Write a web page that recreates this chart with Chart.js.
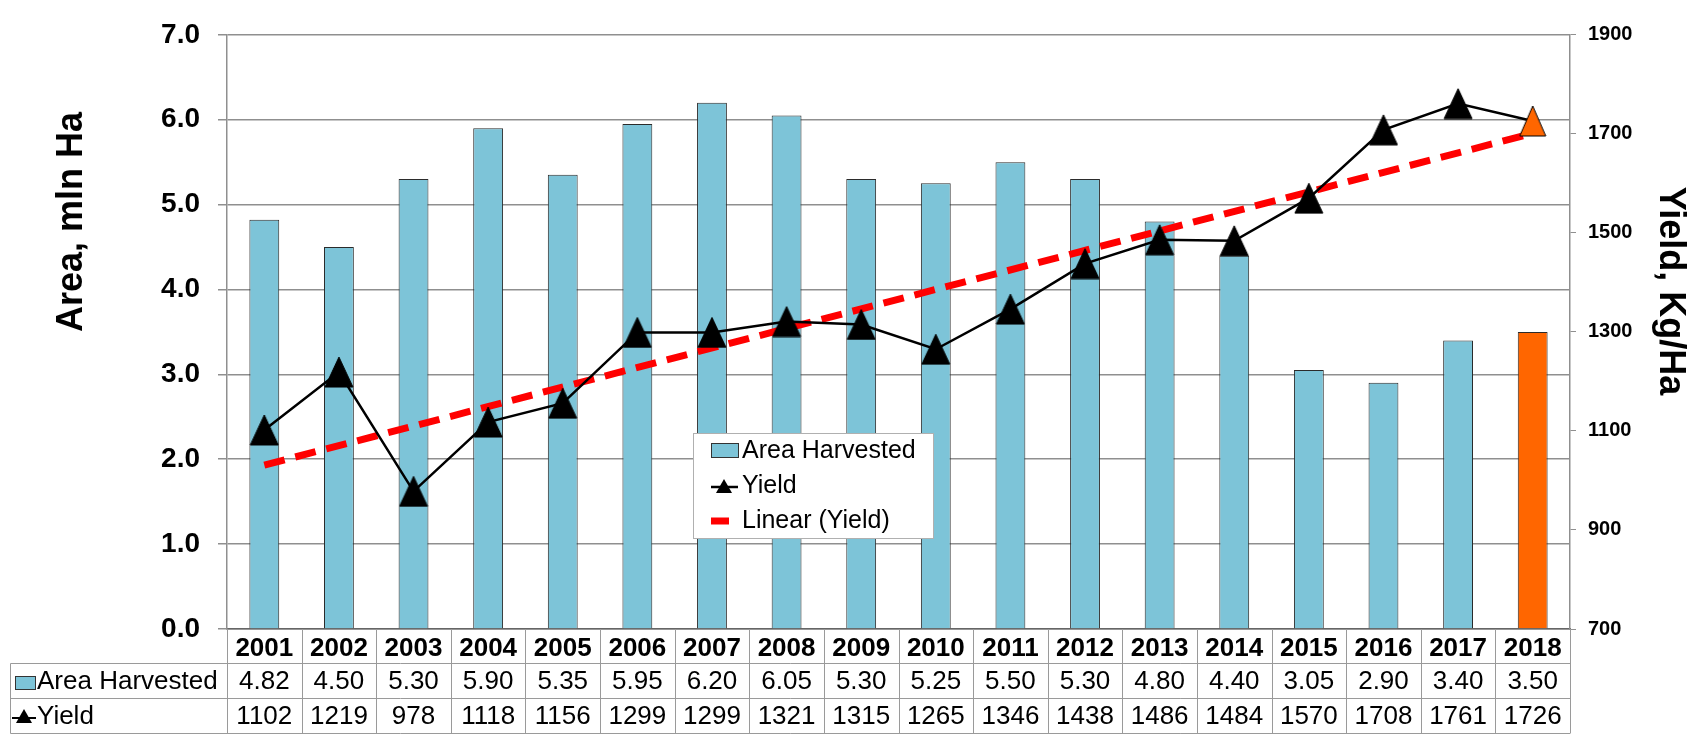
<!DOCTYPE html>
<html lang="en">
<head>
  <meta charset="UTF-8">
  <title>Area Harvested and Yield, 2001-2018</title>
  <script src="https://cdn.jsdelivr.net/npm/chart.js"></script>
  <style>
    html, body { margin: 0; padding: 0; background: #fff; }
  </style>
</head>
<body>
  <canvas id="cropChart" width="1700" height="734"></canvas>

  <script>
    const years = ['2001', '2002', '2003', '2004', '2005', '2006', '2007', '2008', '2009',
                   '2010', '2011', '2012', '2013', '2014', '2015', '2016', '2017', '2018'];
    const areaHarvested = [4.82, 4.50, 5.30, 5.90, 5.35, 5.95, 6.20, 6.05, 5.30,
                           5.25, 5.50, 5.30, 4.80, 4.40, 3.05, 2.90, 3.40, 3.50];
    const yieldKgHa = [1102, 1219, 978, 1118, 1156, 1299, 1299, 1321, 1315,
                       1265, 1346, 1438, 1486, 1484, 1570, 1708, 1761, 1726];
    // trendline ends (2001 and 2018)
    const trendYears = ['2001', '2018'];
    const trendValues = [1031, 1701];

    const FONT = "'Liberation Sans', Arial, sans-serif";
    const BLUE = '#7DC4D8';
    const ORANGE = '#FF6600';
    const GRID = '#8f8f8f';

    // triangle markers like the Excel ones
    function triangleMarker(fill, w, h) {
      const c = document.createElement('canvas');
      c.width = w; c.height = h;
      const g = c.getContext('2d');
      g.beginPath();
      g.moveTo(w / 2, 1);
      g.lineTo(w - 1, h - 1);
      g.lineTo(1, h - 1);
      g.closePath();
      g.fillStyle = fill;
      g.fill();
      g.strokeStyle = '#000';
      g.lineWidth = 1;
      g.stroke();
      return c;
    }
    const triBlack = triangleMarker('#000', 30, 32);
    const triOrange = triangleMarker(ORANGE, 28, 32);

    function drawTri(ctx, cx, cy, w, h) {
      ctx.beginPath();
      ctx.moveTo(cx, cy - h / 2);
      ctx.lineTo(cx + w / 2, cy + h / 2);
      ctx.lineTo(cx - w / 2, cy + h / 2);
      ctx.closePath();
      ctx.fillStyle = '#000';
      ctx.fill();
    }

    // data table under the axis, axis titles and the boxed legend
    const extras = {
      id: 'extras',
      afterDraw(chart) {
        const ctx = chart.ctx;
        const area = chart.chartArea;
        const xs = chart.scales.x;
        const n = years.length;
        const colW = (area.right - area.left) / n;
        const yearBottom = 663.5, rowMid = 698.5, tableBottom = 733.5, tableLeft = 10.5;

        ctx.save();
        ctx.strokeStyle = '#9a9a9a';
        ctx.lineWidth = 1;
        ctx.beginPath();
        for (let i = 0; i <= n; i++) {
          const bx = Math.round(area.left + i * colW) + 0.5;
          ctx.moveTo(bx, area.bottom);
          ctx.lineTo(bx, tableBottom);
        }
        ctx.moveTo(tableLeft, yearBottom); ctx.lineTo(area.right, yearBottom);
        ctx.moveTo(tableLeft, rowMid); ctx.lineTo(area.right, rowMid);
        ctx.moveTo(tableLeft, tableBottom); ctx.lineTo(area.right, tableBottom);
        ctx.moveTo(tableLeft, yearBottom); ctx.lineTo(tableLeft, tableBottom);
        ctx.stroke();

        ctx.fillStyle = '#000';
        ctx.font = '26px ' + FONT;
        ctx.textAlign = 'center';
        ctx.textBaseline = 'middle';
        for (let i = 0; i < n; i++) {
          const cx = xs.getPixelForValue(i);
          ctx.fillText(areaHarvested[i].toFixed(2), cx, 682);
          ctx.fillText(String(yieldKgHa[i]), cx, 717);
        }
        ctx.textAlign = 'left';
        ctx.fillText('Area Harvested', 37, 682);
        ctx.fillText('Yield', 37, 717);
        ctx.fillStyle = BLUE;
        ctx.fillRect(15, 676, 20, 13);
        ctx.strokeStyle = '#333';
        ctx.strokeRect(15.5, 676.5, 20, 13);
        ctx.strokeStyle = '#000';
        ctx.lineWidth = 2;
        ctx.beginPath(); ctx.moveTo(12, 718); ctx.lineTo(36, 718); ctx.stroke();
        drawTri(ctx, 24, 716, 16, 14);

        // axis titles
        ctx.fillStyle = '#000';
        ctx.font = 'bold 36px ' + FONT;
        ctx.textAlign = 'center';
        ctx.save();
        ctx.translate(72, 222);
        ctx.rotate(-Math.PI / 2);
        ctx.fillText('Area, mln Ha', 0, 0);
        ctx.restore();
        ctx.save();
        ctx.translate(1670, 291);
        ctx.rotate(Math.PI / 2);
        ctx.fillText('Yield, Kg/Ha', 0, 0);
        ctx.restore();

        // legend box
        ctx.fillStyle = '#fff';
        ctx.fillRect(693, 433, 240, 105);
        ctx.strokeStyle = '#b0b0b0';
        ctx.lineWidth = 1;
        ctx.strokeRect(693.5, 433.5, 240, 105);
        ctx.fillStyle = BLUE;
        ctx.fillRect(711, 443, 27, 14);
        ctx.strokeStyle = '#333';
        ctx.strokeRect(711.5, 443.5, 27, 14);
        ctx.strokeStyle = '#000';
        ctx.lineWidth = 2.5;
        ctx.beginPath(); ctx.moveTo(711, 487); ctx.lineTo(738, 487); ctx.stroke();
        drawTri(ctx, 724, 486, 16, 14);
        ctx.strokeStyle = '#ff0000';
        ctx.lineWidth = 7;
        ctx.beginPath(); ctx.moveTo(711, 521); ctx.lineTo(729, 521); ctx.stroke();
        ctx.fillStyle = '#000';
        ctx.font = '25px ' + FONT;
        ctx.textAlign = 'left';
        ctx.fillText('Area Harvested', 742, 451);
        ctx.fillText('Yield', 742, 486);
        ctx.fillText('Linear (Yield)', 742, 521);
        ctx.restore();
      }
    };

    const ctx = document.getElementById('cropChart').getContext('2d');
    const chart = new Chart(ctx, {
      type: 'bar',
      data: {
        labels: years,
        datasets: [
          {
            label: 'Yield',
            type: 'line',
            data: yieldKgHa,
            yAxisID: 'y1',
            borderColor: '#000',
            borderWidth: 2.5,
            tension: 0,
            pointStyle: years.map((y, i) => i === years.length - 1 ? triOrange : triBlack),
            pointRadius: 14,
            order: 1
          },
          {
            label: 'Linear (Yield)',
            type: 'line',
            data: trendYears.map((y, i) => ({ x: y, y: trendValues[i] })),
            yAxisID: 'y1',
            borderColor: '#ff0000',
            borderWidth: 7,
            borderDash: [21, 11],
            pointRadius: 0,
            order: 2
          },
          {
            label: 'Area Harvested',
            data: areaHarvested,
            yAxisID: 'y',
            backgroundColor: years.map((y, i) => i === years.length - 1 ? ORANGE : BLUE),
            borderColor: '#2b2b2b',
            borderWidth: 1,
            barPercentage: 0.4,
            categoryPercentage: 1.0,
            order: 3
          }
        ]
      },
      options: {
        responsive: false,
        animation: false,
        layout: { padding: { left: 0, right: 0, top: 25, bottom: 71 } },
        plugins: {
          legend: { display: false },
          tooltip: { enabled: false }
        },
        scales: {
          x: {
            offset: true,
            grid: { display: false, drawTicks: false },
            border: { display: true, color: '#666', width: 1.5 },
            ticks: {
              color: '#000',
              font: { family: FONT, size: 26, weight: 'bold' },
              padding: 4,
              maxRotation: 0,
              autoSkip: false
            },
            afterFit(s) { s.height = 34; }
          },
          y: {
            position: 'left',
            min: 0,
            max: 7,
            ticks: {
              stepSize: 1,
              color: '#000',
              font: { family: FONT, size: 28, weight: 'bold' },
              padding: 18,
              callback: v => v.toFixed(1)
            },
            grid: { color: GRID, lineWidth: 1.5, tickLength: 9 },
            border: { display: true, color: GRID, width: 1.5 },
            afterFit(s) { s.width = 227; }
          },
          y1: {
            position: 'right',
            min: 700,
            max: 1900,
            ticks: {
              stepSize: 200,
              color: '#000',
              font: { family: FONT, size: 20, weight: 'bold' },
              padding: 12,
              callback: v => String(v)
            },
            grid: { drawOnChartArea: false, color: GRID, tickLength: 6 },
            border: { display: true, color: GRID, width: 1.5 },
            afterFit(s) { s.width = 130; }
          }
        }
      },
      plugins: [extras]
    });
  </script>
</body>
</html>
